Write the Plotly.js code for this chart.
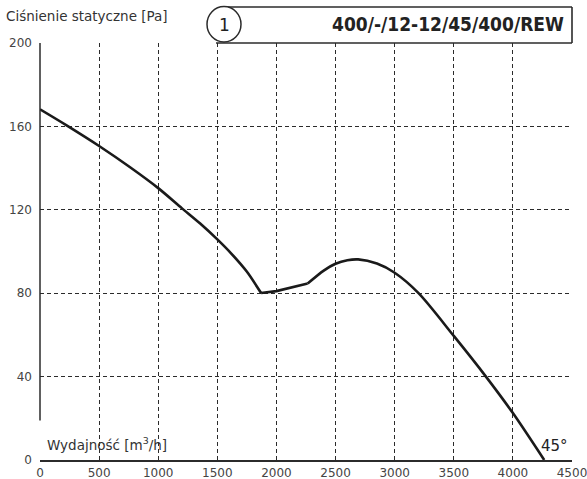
<!DOCTYPE html>
<html>
<head>
<meta charset="utf-8">
<script src="https://cdn.plot.ly/plotly-3.0.1.min.js"></script>
<style>html,body{margin:0;padding:0;background:#fff;}#chart{width:587px;height:479px;}</style>
</head>
<body>
<div id="chart"></div>
<script>
// Data
const flow = [0, 225, 500, 762, 1000, 1199, 1355, 1500, 1620, 1749, 1870, 2000, 2264, 2400, 2500, 2600, 2691, 2850, 3000, 3202, 3500, 3772, 4000, 4265];
const pressure = [168.2, 160.5, 150.6, 140.4, 130.4, 120.8, 113.4, 105.8, 98.9, 90.4, 80.1, 81.0, 84.6, 90.8, 94.1, 95.8, 96.2, 94.2, 89.8, 80, 59.5, 40, 22.5, 0];
// indices where the curve has sharp corners (smooth pieces between them)
const cornerIdx = [10, 12];
const xTicks = [0, 500, 1000, 1500, 2000, 2500, 3000, 3500, 4000, 4500];
const yTicks = [0, 40, 80, 120, 160, 200];
const yAxisTitle = 'Ciśnienie statyczne [Pa]';
const xAxisTitle = 'Wydajność [m<sup>3</sup>/h]';
const modelLabel = '400/-/12-12/45/400/REW';
const curveNumber = '1';
const angleLabel = '45°';

// layout geometry (pixels)
const W = 587, H = 479, L = 40, R = 15, T = 43, B = 19;
const pw = W - L - R, ph = H - T - B;
const px = x => (x - L) / pw;
const py = y => (H - B - y) / ph;
const ink = '#2b2b2b';

function piece(a, b, shape) {
  return {
    x: flow.slice(a, b + 1), y: pressure.slice(a, b + 1), type: 'scatter', mode: 'lines',
    line: {color: '#1a1a1a', width: 2.6, shape: shape, smoothing: 0.8}, hoverinfo: 'skip', cliponaxis: false
  };
}
const traces = [
  piece(0, cornerIdx[0], 'spline'),
  piece(cornerIdx[0], cornerIdx[1], 'linear'),
  piece(cornerIdx[1], flow.length - 1, 'spline')
];

const layout = {
  width: W, height: H,
  margin: {l: L, r: R, t: T, b: B},
  paper_bgcolor: '#fff', plot_bgcolor: '#fff',
  showlegend: false,
  font: {family: 'DejaVu Sans, sans-serif', color: '#444', size: 12},
  xaxis: {
    range: [0, 4500], tickvals: xTicks, ticktext: xTicks.map(String),
    showgrid: true, gridcolor: ink, gridwidth: 1, griddash: '4px,3px',
    zeroline: false, showline: true, linecolor: ink, linewidth: 1.5,
    ticks: '', ticklabelstandoff: 1, ticklabeloverflow: 'allow', tickfont: {size: 12, color: '#444'},
    fixedrange: true
  },
  yaxis: {
    range: [0, 200], tickvals: yTicks, ticktext: yTicks.map(String),
    showgrid: true, gridcolor: ink, gridwidth: 1, griddash: '4px,3px',
    zeroline: false, showline: false, ticklabeloverflow: 'allow',
    ticks: '', ticklabelstandoff: 7, tickfont: {size: 12, color: '#444'},
    fixedrange: true
  },
  shapes: [
    {type: 'line', xref: 'paper', yref: 'y', x0: 0, x1: 0, y0: 0.8, y1: 19, line: {color: '#fff', width: 3}, layer: 'above'},
    {type: 'line', xref: 'paper', yref: 'y', x0: 0, x1: 0, y0: 19, y1: 200, line: {color: ink, width: 1.5}, layer: 'above'},
    {type: 'line', xref: 'paper', yref: 'paper', x0: px(216), x1: 1, y0: 1, y1: 1, line: {color: ink, width: 1.6}, layer: 'above'},
    {type: 'line', xref: 'paper', yref: 'paper', x0: px(226), x1: 1, y0: py(7), y1: py(7), line: {color: ink, width: 1.6}, layer: 'above'},
    {type: 'line', xref: 'paper', yref: 'paper', x0: 1, x1: 1, y0: py(7), y1: 1, line: {color: ink, width: 1.6}, layer: 'above'},
    {type: 'circle', xref: 'paper', yref: 'paper', x0: px(207), x1: px(241), y0: py(42), y1: py(6.5), line: {color: ink, width: 1.5}, fillcolor: '#fff', layer: 'above'}
  ],
  annotations: [
    {text: yAxisTitle, xref: 'paper', yref: 'paper', x: px(4), y: py(16), xanchor: 'left', yanchor: 'middle', showarrow: false, font: {size: 13.5, color: '#333'}},
    {text: modelLabel, xref: 'paper', yref: 'paper', x: px(566), y: py(24), xanchor: 'right', yanchor: 'middle', showarrow: false, font: {family: 'DejaVu Sans Condensed, Liberation Sans Narrow, sans-serif', size: 19, color: '#222', weight: 'bold'}},
    {text: curveNumber, xref: 'paper', yref: 'paper', x: px(224), y: py(24.5), xanchor: 'center', yanchor: 'middle', showarrow: false, font: {size: 17, color: '#222'}},
    {text: xAxisTitle, xref: 'paper', yref: 'paper', x: px(45), y: py(444), xanchor: 'left', yanchor: 'middle', showarrow: false, font: {size: 13.5, color: '#333'}},
    {text: angleLabel, xref: 'paper', yref: 'paper', x: px(539), y: py(446), xanchor: 'left', yanchor: 'middle', showarrow: false, font: {size: 15, color: '#222'}}
  ]
};

Plotly.newPlot('chart', traces, layout, {displayModeBar: false, staticPlot: true});
</script>
</body>
</html>
